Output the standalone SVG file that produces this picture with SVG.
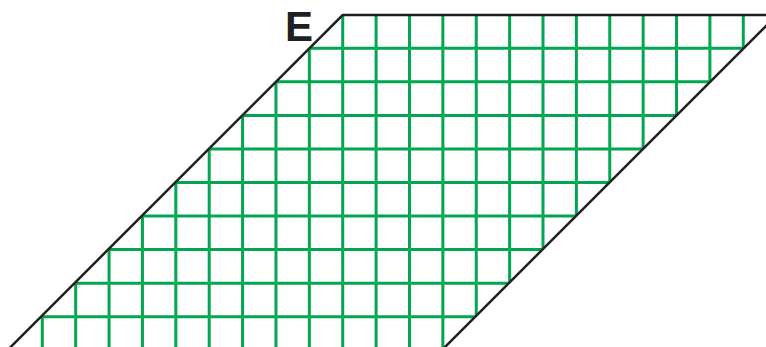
<svg xmlns="http://www.w3.org/2000/svg" width="766" height="347" viewBox="0 0 766 347">
  <defs>
    <style>
      .grid { stroke: #00a651; stroke-width: 3; fill: none; }
      .edge { stroke: #231f20; stroke-width: 2.5; fill: none; }
      .label { font-family: "Liberation Sans", Arial, sans-serif; font-weight: bold; font-size: 42px; fill: #231f20; }
    </style>
    <clipPath id="para">
      <polygon points="342.7,15 777,15 417,375 -17.3,375"/>
    </clipPath>
  </defs>
  <rect width="766" height="347" fill="#ffffff"/>
  <g id="grid" clip-path="url(#para)">
    <path class="grid" d="M42.3 0V360 M75.68 0V360 M109.06 0V360 M142.44 0V360 M175.82 0V360 M209.2 0V360 M242.58 0V360 M275.96 0V360 M309.34 0V360 M342.72 0V360 M376.1 0V360 M409.48 0V360 M442.86 0V360 M476.24 0V360 M509.62 0V360 M543 0V360 M576.38 0V360 M609.76 0V360 M643.14 0V360 M676.52 0V360 M709.9 0V360 M743.28 0V360"/>
    <path class="grid" d="M0 48.3H800 M0 81.85H800 M0 115.4H800 M0 148.95H800 M0 182.5H800 M0 216.05H800 M0 249.6H800 M0 283.15H800 M0 316.7H800"/>
  </g>
  <g id="outline">
    <path class="edge" d="M2.7 355 L342.7 15 L777 15 M777 15 L437 355"/>
  </g>
  <g id="label-E">
    <text class="label" x="285" y="40.5">E</text>
  </g>
</svg>
